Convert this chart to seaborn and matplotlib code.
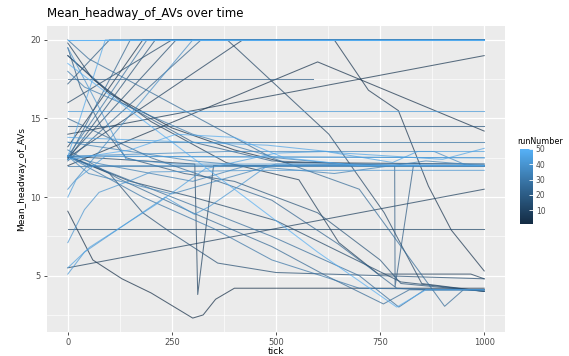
import numpy as np
import pandas as pd
import matplotlib
matplotlib.use("Agg")
import matplotlib.pyplot as plt
import seaborn as sns
from matplotlib.colors import LinearSegmentedColormap, Normalize
from matplotlib.cm import ScalarMappable

# ---------------- data: breakpoints (tick, Mean_headway_of_AVs) per run ----------------
run01_tick = [0, 100, 250, 400, 520, 1000]
run01_val = [19.0, 16.6, 14.4, 13.0, 12.2, 12.1]
run02_tick = [0, 60, 130, 200, 300, 325, 355, 400, 1000]
run02_val = [9.1, 6.0, 4.8, 3.9, 2.3, 2.5, 3.5, 4.2, 4.2]
run03_tick = [0, 600, 1000]
run03_val = [12.0, 18.6, 14.2]
run04_tick = [0, 180, 640, 722, 794, 866, 921, 1000]
run04_val = [13.2, 20.0, 20.0, 16.8, 15.5, 10.7, 7.9, 5.3]
run05_tick = [0, 1000]
run05_val = [14.0, 19.0]
run06_tick = [0, 60, 200, 380, 555, 651, 746, 968, 1000]
run06_val = [19.8, 17.5, 14.8, 12.2, 11.1, 7.1, 5.1, 5.1, 4.8]
run07_tick = [0, 420, 1000]
run07_val = [12.5, 20.0, 20.0]
run08_tick = [0, 1000]
run08_val = [5.5, 10.5]
run09_tick = [0, 305, 312, 350, 1000]
run09_val = [12.6, 12.1, 3.8, 12.0, 12.0]
run10_tick = [0, 250, 383, 627, 760, 850, 1000]
run10_val = [16.0, 20.0, 20.0, 14.0, 9.0, 4.5, 4.0]
run11_tick = [0, 150, 300, 500, 800, 1000]
run11_val = [12.6, 11.0, 10.0, 8.5, 4.6, 4.0]
run12_tick = [0, 1000]
run12_val = [8.0, 8.0]
run13_tick = [0, 260, 1000]
run13_val = [12.5, 20.0, 20.0]
run14_tick = [0, 100, 180, 250, 360, 500, 1000]
run14_val = [12.6, 11.5, 9.0, 7.7, 5.8, 5.2, 4.8]
run15_tick = [0, 210, 1000]
run15_val = [12.4, 20.0, 20.0]
run16_tick = [0, 30, 80, 140, 280, 400, 600, 750, 800, 1000]
run16_val = [19.5, 17.0, 14.5, 12.5, 11.5, 11.0, 9.0, 6.0, 4.5, 4.0]
run17_tick = [0, 100, 1000]
run17_val = [17.2, 20.0, 20.0]
run18_tick = [0, 1000]
run18_val = [14.5, 14.5]
run19_tick = [0, 130, 300, 490, 700, 785, 786, 830, 1000]
run19_val = [19.0, 16.0, 13.5, 12.3, 12.1, 12.0, 4.3, 12.0, 12.0]
run20_tick = [0, 590]
run20_val = [17.5, 17.5]
run21_tick = [0, 320, 1000]
run21_val = [12.3, 20.0, 20.0]
run22_tick = [0, 150, 1000]
run22_val = [12.4, 20.0, 20.0]
run23_tick = [0, 200, 490, 650, 790, 860, 1000]
run23_val = [15.0, 12.5, 9.8, 7.0, 4.2, 4.1, 4.1]
run24_tick = [0, 120, 300, 490, 620, 758, 820, 1000]
run24_val = [13.0, 11.2, 9.0, 6.85, 5.0, 3.2, 4.1, 4.1]
run25_tick = [0, 50, 490, 700, 905, 950, 1000]
run25_val = [20.0, 18.8, 12.5, 10.5, 3.05, 4.1, 4.1]
run26_tick = [0, 60, 250, 490, 700, 795, 857, 1000]
run26_val = [12.6, 12.0, 10.0, 7.5, 5.0, 3.0, 4.1, 4.1]
run27_tick = [0, 190, 1000]
run27_val = [12.6, 20.0, 20.0]
run28_tick = [0, 1000]
run28_val = [13.5, 13.5]
run29_tick = [0, 180, 350, 490, 620, 700, 1000]
run29_val = [12.6, 10.0, 8.0, 6.0, 4.9, 4.2, 4.1]
run30_tick = [0, 1000]
run30_val = [12.0, 12.0]
run31_tick = [0, 40, 300, 500, 700, 1000]
run31_val = [18.0, 17.0, 14.0, 12.5, 12.0, 12.0]
run32_tick = [0, 80, 300, 430, 1000]
run32_val = [12.6, 12.1, 11.0, 12.0, 12.0]
run33_tick = [0, 300, 640, 860, 1000]
run33_val = [13.5, 12.3, 11.5, 12.3, 12.0]
run34_tick = [0, 50, 250, 380, 500, 1000]
run34_val = [12.6, 11.5, 10.2, 11.2, 12.1, 12.0]
run35_tick = [0, 50, 1000]
run35_val = [12.6, 12.0, 12.0]
run36_tick = [0, 380, 600, 880, 960, 1000]
run36_val = [12.6, 12.9, 12.9, 12.9, 12.0, 12.0]
run37_tick = [0, 300, 1000]
run37_val = [10.5, 20.0, 20.0]
run38_tick = [0, 1000]
run38_val = [12.6, 12.5]
run39_tick = [0, 140, 260, 1000]
run39_val = [19.5, 12.4, 12.1, 12.1]
run40_tick = [0, 40, 75, 155, 200, 450, 1000]
run40_val = [7.1, 9.2, 10.3, 11.1, 11.6, 11.7, 11.7]
run41_tick = [0, 40, 234, 304, 340, 411, 480, 1000]
run41_val = [5.1, 6.5, 10.0, 8.9, 9.4, 10.7, 12.0, 12.0]
run42_tick = [0, 1000]
run42_val = [15.5, 15.5]
run43_tick = [0, 20, 90, 1000]
run43_val = [10.0, 11.1, 12.6, 12.5]
run44_tick = [0, 52, 210, 330, 500, 620, 780, 840, 1000]
run44_val = [5.5, 6.8, 9.5, 11.8, 12.8, 12.9, 12.2, 12.9, 12.9]
run45_tick = [0, 480, 660, 900, 1000]
run45_val = [13.8, 13.3, 12.8, 12.4, 13.1]
run46_tick = [0, 90, 1000]
run46_val = [12.6, 20.0, 20.0]
run47_tick = [0, 1000]
run47_val = [20.0, 20.0]
run48_tick = [0, 150, 260, 400, 520, 700, 1000]
run48_val = [12.4, 13.0, 14.0, 13.8, 12.5, 12.0, 12.0]
run49_tick = [0, 350, 600, 790, 860, 1000]
run49_val = [18.5, 11.5, 6.5, 3.0, 4.1, 4.1]
run50_tick = [0, 1000]
run50_val = [20.0, 20.0]

run_numbers = list(range(1, 51))
run_ticks = [globals()[f"run{i:02d}_tick"] for i in run_numbers]
run_vals = [globals()[f"run{i:02d}_val"] for i in run_numbers]

x_ticks = [0, 250, 500, 750, 1000]
y_ticks = [5, 10, 15, 20]
legend_ticks = [10, 20, 30, 40, 50]

title_text = "Mean_headway_of_AVs over time"
x_label = "tick"
y_label = "Mean_headway_of_AVs"
legend_title = "runNumber"

# ---------------- build tidy frame ----------------
rows = []
for rn, tk, vl in zip(run_numbers, run_ticks, run_vals):
    for order, (t, v) in enumerate(zip(tk, vl)):
        rows.append({"runNumber": rn, "tick": t, "value": v, "order": order})
df = pd.DataFrame(rows).sort_values(["runNumber", "order"]).reset_index(drop=True)

cmap = LinearSegmentedColormap.from_list(
    "gg", ["#132B43", "#336A98", "#56B1F7"])
norm = Normalize(vmin=1, vmax=50)

# ---------------- figure ----------------
W, H = 569, 356
fig = plt.figure(figsize=(W / 100, H / 100), dpi=100)
fig.patch.set_facecolor("white")
ax = fig.add_axes([47 / W, 1 - 332 / H, (505 - 47) / W, (332 - 26) / H])
ax.set_facecolor("#EBEBEB")
ax.set_axisbelow(True)

sns.lineplot(data=df, x="tick", y="value", hue="runNumber", units="runNumber",
             estimator=None, sort=False, palette=cmap, hue_norm=norm,
             legend=False, linewidth=0.75, alpha=0.7, ax=ax)

ymin, ymax = 2.3, 20.0
pad = (ymax - ymin) * 0.05
ax.set_xlim(-50, 1050)
ax.set_ylim(ymin - pad, ymax + pad)

ax.set_xticks(x_ticks)
ax.set_xticklabels([str(t) for t in x_ticks])
ax.set_yticks(y_ticks)
ax.set_yticklabels([str(t) for t in y_ticks])
ax.set_xticks([125, 375, 625, 875], minor=True)
ax.set_yticks([2.5, 7.5, 12.5, 17.5], minor=True)
ax.grid(which="major", color="white", linewidth=0.9)
ax.grid(which="minor", color="white", linewidth=0.45)
for s in ax.spines.values():
    s.set_visible(False)
ax.tick_params(which="major", length=2.5, width=0.6, color="#333333",
               labelsize=6, labelcolor="#4D4D4D", pad=2)
ax.tick_params(which="minor", length=0)
ax.set_xlabel(x_label, fontsize=6.5, labelpad=0)
ax.set_ylabel(y_label, fontsize=6.5, labelpad=3)

fig.text(47 / W, 1 - 14 / H, title_text, fontsize=8.5, ha="left", va="center")

# ---------------- colourbar legend ----------------
cax = fig.add_axes([520 / W, 1 - 224 / H, 13 / W, 75 / H])
cb = fig.colorbar(ScalarMappable(norm=norm, cmap=cmap), cax=cax)
cb.set_ticks(legend_ticks)
cb.outline.set_visible(False)
cax.tick_params(length=3, width=0.6, color="white", direction="in",
                labelsize=5.5, labelcolor="#4D4D4D", pad=2)
fig.text(517 / W, 1 - 141 / H, legend_title, fontsize=5.8, ha="left",
         va="center")

fig.savefig("out.png", dpi=100)
